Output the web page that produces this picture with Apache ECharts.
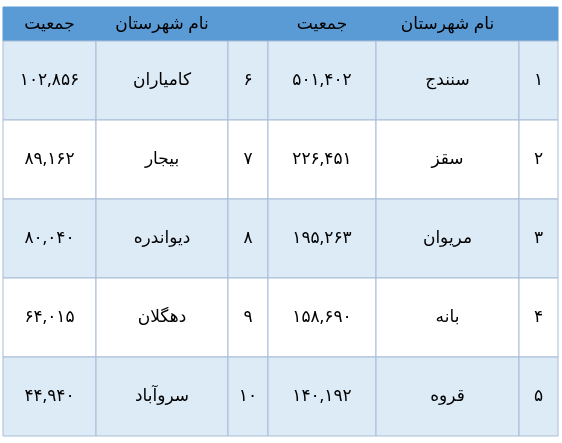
<!DOCTYPE html>
<html><head><meta charset="utf-8">
<script src="https://cdn.jsdelivr.net/npm/echarts@6/dist/echarts.min.js"></script>
<style>html,body{margin:0;padding:0;background:#fff}#c{width:562px;height:443px}</style>
</head><body><div id="c"></div>
<script>
const headers = ['جمعیت','نام شهرستان','','جمعیت','نام شهرستان',''];
const ranksA = [1,2,3,4,5];
const namesA = ['سنندج','سقز','مریوان','بانه','قروه'];
const popsA = [501402,226451,195263,158690,140192];
const ranksB = [6,7,8,9,10];
const namesB = ['کامیاران','بیجار','دیواندره','دهگلان','سروآباد'];
const popsB = [102856,89162,80040,64015,44940];

const colEdges = [0,93,225,265,373,516,555];
const rowEdges = [0,34,113,192,271,350,429];
const fa = n => String(n).replace(/\d/g,d=>'۰۱۲۳۴۵۶۷۸۹'[d]);
const faNum = n => fa(n.toLocaleString('en-US'));

const cells = [];
headers.forEach((h,c)=>cells.push([c,0,h]));
for(let i=0;i<5;i++){
  const r=i+1;
  cells.push([0,r,faNum(popsB[i])],[1,r,namesB[i]],[2,r,fa(ranksB[i])],
             [3,r,faNum(popsA[i])],[4,r,namesA[i]],[5,r,fa(ranksA[i])]);
}
const chart = echarts.init(document.getElementById('c'));
chart.setOption({
  animation:false,
  grid:{left:3,right:4,top:7,bottom:7},
  xAxis:{type:'value',min:0,max:555,show:false},
  yAxis:{type:'value',min:0,max:429,inverse:true,show:false},
  series:[{
    type:'custom',
    data:cells,
    renderItem:(params,api)=>{
      const c=api.value(0), r=api.value(1), t=cells[params.dataIndex][2];
      const p0=api.coord([colEdges[c],rowEdges[r]]), p1=api.coord([colEdges[c+1],rowEdges[r+1]]);
      const x0=p0[0], x1=p1[0], y0=Math.min(p0[1],p1[1]), y1=Math.max(p0[1],p1[1]);
      const fill = r===0 ? '#5B9BD5' : (r%2===1 ? '#DDEBF7' : '#FFFFFF');
      return {type:'group',children:[
        {type:'rect',shape:{x:x0,y:y0,width:x1-x0,height:y1-y0},
         style:{fill:fill,stroke:r===0?'#5B9BD5':'#A9BCD6',lineWidth:1}},
        {type:'text',style:{text:t,x:(x0+x1)/2,y:(y0+y1)/2,align:'center',verticalAlign:'middle',
          fill:'#000000',font:'17px "Noto Sans","DejaVu Sans",sans-serif'}}
      ]};
    }
  }]
});
</script></body></html>
